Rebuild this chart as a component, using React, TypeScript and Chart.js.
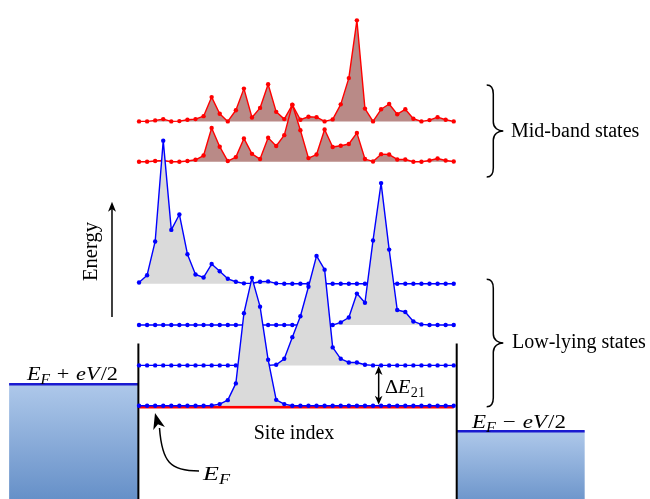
import React, { useEffect, useRef } from "react";
import { Chart, registerables } from "chart.js";

Chart.register(...registerables);

// ---- Data ----
const SITES: number[] = [
  0, 1, 2, 3, 4, 5, 6, 7, 8, 9, 10, 11, 12, 13, 14, 15, 16, 17, 18, 19,
  20, 21, 22, 23, 24, 25, 26, 27, 28, 29, 30, 31, 32, 33, 34, 35, 36, 37, 38, 39,
];

// energy levels (arbitrary units)
const LOW_LEVELS = [0, 4.1, 8.2, 12.4];
const MID_LEVELS = [24.8, 28.9];
const FERMI = 0;
const MU_LEFT = 2.18; // E_F + eV/2
const MU_RIGHT = -2.6; // E_F - eV/2

// |psi|^2 amplitudes (same units)
const PSI_1 = [0, 0, 0, 0, 0, 0, 0, 0, 0, 0.03, 0.17, 0.57, 2.27, 9.4, 13.0, 10.07, 4.67, 0.6, 0.17, 0,
  0, 0, 0, 0, 0, 0, 0, 0, 0, 0, 0, 0, 0, 0, 0, 0, 0, 0, 0, 0];
const PSI_2 = [0, 0, 0, 0, 0, 0, 0, 0, 0, 0, 0, 0, 0, 0, 0, 0, 0, 0.07, 0.67, 2.87,
  5.0, 8.0, 11.13, 9.73, 1.83, 0.67, 0.3, 0.3, 0.07, 0, 0, 0, 0, 0, 0, 0, 0, 0, 0, 0];
const PSI_3 = [0, 0, 0, 0, 0, 0, 0, 0, 0, 0, 0, 0, 0, 0, 0, 0, 0, 0, 0, 0,
  0, 0, 0, 0, 0, 0.27, 0.77, 3.2, 2.27, 8.6, 14.43, 7.67, 1.53, 1.33, 0.37, 0.07, 0, 0, 0, 0];
const PSI_4 = [0.13, 0.87, 4.3, 14.54, 5.47, 7.04, 3.0, 0.94, 0.64, 2.0, 1.27, 0.5, 0.2, 0.04, 0.05, 0.2, 0.24, 0.04, 0, 0,
  0, 0, 0, 0, 0, 0, 0, 0, 0, 0, 0, 0, 0, 0, 0, 0, 0, 0, 0, 0];
const PSI_MID_1 = [0, 0, 0.07, 0.13, 0, 0, 0.07, 0.2, 0.63, 3.43, 1.53, 0.07, 0.47, 2.37, 0.8, 0.27, 2.43, 1.6, 2.7, 5.8,
  3.2, 0.37, 0.73, 3.27, 1.5, 1.63, 1.8, 2.93, 0.27, 0.03, 0.77, 0.73, 0.23, 0.23, 0, 0, 0.13, 0.33, 0.13, 0.03];
const PSI_MID_2 = [0, 0, 0.1, 0.23, 0, 0.03, 0.17, 0.23, 0.53, 2.47, 0.77, 0, 1.13, 3.33, 0.4, 1.37, 3.77, 0.97, 0.23, 1.67,
  0.17, 0.47, 0.43, 0, 0.2, 1.73, 4.4, 10.27, 1.3, 0, 1.23, 1.77, 0.73, 1.23, 0.27, 0, 0.13, 0.43, 0.17, 0];

const LOW_STATES = [PSI_1, PSI_2, PSI_3, PSI_4];
const MID_STATES = [PSI_MID_1, PSI_MID_2];

// ---- view window ----
const X_MIN = -16.734;
const X_MAX = 62.83;
const Y_MIN = -9.07;
const Y_MAX = 40.83;

const FONT = '"Liberation Serif", "Times New Roman", serif';

const BLUE = "#0000ff";
const RED = "#ff0000";
const BLUE_FILL = "#dadada";
const RED_FILL = "#b98a87";

function makeDataset(amps: number[], level: number, color: string, fillColor: string) {
  return {
    data: SITES.map((s, i) => ({ x: s, y: level + amps[i] })),
    borderColor: color,
    borderWidth: 1.4,
    borderJoinStyle: "round",
    backgroundColor: fillColor,
    pointBackgroundColor: color,
    pointBorderColor: color,
    pointBorderWidth: 0,
    pointRadius: 2.2,
    tension: 0,
    fill: { value: level },
  };
}

type Seg = { t: string; it?: boolean; sub?: boolean; gapL?: number; gapR?: number };

function drawMath(ctx: CanvasRenderingContext2D, segs: Seg[], x: number, y: number, size: number, target?: number) {
  const measure = () => {
    let w = 0;
    for (const s of segs) {
      const fs = s.sub ? size * 0.7 : size;
      ctx.font = `${s.it ? "italic " : ""}${fs}px ${FONT}`;
      w += (s.gapL || 0) * size + ctx.measureText(s.t).width + (s.gapR || 0) * size;
    }
    return w;
  };
  const total = measure();
  const k = target ? target / total : 1;
  ctx.save();
  ctx.translate(x, y);
  ctx.scale(k, 1);
  let cx = 0;
  for (const s of segs) {
    const fs = s.sub ? size * 0.7 : size;
    ctx.font = `${s.it ? "italic " : ""}${fs}px ${FONT}`;
    cx += (s.gapL || 0) * size;
    const dy = s.sub ? size * 0.22 : 0;
    ctx.fillText(s.t, cx, dy);
    cx += ctx.measureText(s.t).width + (s.gapR || 0) * size;
  }
  ctx.restore();
}

function arrowHead(ctx: CanvasRenderingContext2D, tx: number, ty: number, ang: number, len: number, half: number) {
  const dx = Math.cos(ang), dy = Math.sin(ang);
  const px = -dy, py = dx;
  ctx.beginPath();
  ctx.moveTo(tx, ty);
  ctx.lineTo(tx - len * dx + half * px, ty - len * dy + half * py);
  ctx.lineTo(tx - 0.72 * len * dx, ty - 0.72 * len * dy);
  ctx.lineTo(tx - len * dx - half * px, ty - len * dy - half * py);
  ctx.closePath();
  ctx.fill();
}

function brace(ctx: CanvasRenderingContext2D, x0: number, xs: number, xt: number, yTop: number, yBot: number) {
  const ym = (yTop + yBot) / 2;
  const r = 9;
  ctx.beginPath();
  ctx.moveTo(x0, yTop);
  ctx.bezierCurveTo(x0 + 4.5, yTop, xs, yTop + 3, xs, yTop + r);
  ctx.lineTo(xs, ym - r);
  ctx.bezierCurveTo(xs, ym - 3, xt - 5, ym, xt, ym);
  ctx.bezierCurveTo(xt - 5, ym, xs, ym + 3, xs, ym + r);
  ctx.lineTo(xs, yBot - r);
  ctx.bezierCurveTo(xs, yBot - 3, x0 + 4.5, yBot, x0, yBot);
  ctx.stroke();
}

const decorPlugin = {
  id: "decor",
  beforeDatasetsDraw(chart: any) {
    const ctx: CanvasRenderingContext2D = chart.ctx;
    const xs = chart.scales.x, ys = chart.scales.y;
    const X = (v: number) => xs.getPixelForValue(v);
    const Y = (v: number) => ys.getPixelForValue(v);
    const bottom = chart.height;
    ctx.save();
    // reservoirs
    const wallL = X(-0.08), wallR = X(39.37);
    const lTop = Y(MU_LEFT), rTop = Y(MU_RIGHT);
    const lLeft = X(-16.1), rRight = X(55.23);
    let g = ctx.createLinearGradient(0, lTop, 0, bottom);
    g.addColorStop(0, "#aec8ea");
    g.addColorStop(1, "#6690c8");
    ctx.fillStyle = g;
    ctx.fillRect(lLeft, lTop, wallL - lLeft, bottom - lTop);
    g = ctx.createLinearGradient(0, rTop, 0, bottom);
    g.addColorStop(0, "#aec8ea");
    g.addColorStop(1, "#6f97cc");
    ctx.fillStyle = g;
    ctx.fillRect(wallR, rTop, rRight - wallR, bottom - rTop);
    ctx.strokeStyle = "#1a1ad0";
    ctx.lineWidth = 2.5;
    ctx.beginPath();
    ctx.moveTo(lLeft, lTop);
    ctx.lineTo(wallL, lTop);
    ctx.moveTo(wallR, rTop);
    ctx.lineTo(rRight, rTop);
    ctx.stroke();
    // walls
    ctx.strokeStyle = "#000";
    ctx.lineWidth = 2;
    ctx.beginPath();
    ctx.moveTo(wallL, Y(6.33));
    ctx.lineTo(wallL, bottom);
    ctx.moveTo(wallR, Y(6.33));
    ctx.lineTo(wallR, bottom);
    ctx.stroke();
    // Fermi level
    ctx.strokeStyle = RED;
    ctx.lineWidth = 3;
    ctx.beginPath();
    ctx.moveTo(X(0), Y(FERMI) + 1.2);
    ctx.lineTo(X(39), Y(FERMI) + 1.2);
    ctx.stroke();
    ctx.restore();
  },
  afterDatasetsDraw(chart: any) {
    const ctx: CanvasRenderingContext2D = chart.ctx;
    const xs = chart.scales.x, ys = chart.scales.y;
    const X = (v: number) => xs.getPixelForValue(v);
    const Y = (v: number) => ys.getPixelForValue(v);
    ctx.save();
    ctx.fillStyle = "#000";
    ctx.strokeStyle = "#000";
    ctx.textBaseline = "alphabetic";
    ctx.textAlign = "left";

    // Site index
    ctx.font = `20px ${FONT}`;
    ctx.textAlign = "center";
    ctx.fillText("Site index", 294, 439);

    // Energy label + arrow
    ctx.save();
    ctx.translate(97, 251.5);
    ctx.rotate(-Math.PI / 2);
    ctx.font = `20.5px ${FONT}`;
    ctx.fillText("Energy", 0, 0);
    ctx.restore();
    const ex = X(-3.35);
    ctx.lineWidth = 1.5;
    ctx.beginPath();
    ctx.moveTo(ex, Y(9.03));
    ctx.lineTo(ex, Y(20.73) + 6);
    ctx.stroke();
    arrowHead(ctx, ex, Y(20.73), -Math.PI / 2, 10, 4);

    // Delta E21 double arrow
    const dx = X(29.7);
    const yA = Y(LOW_LEVELS[1]) + 0.5, yB = Y(LOW_LEVELS[0]) - 1;
    ctx.beginPath();
    ctx.moveTo(dx, yA + 6);
    ctx.lineTo(dx, yB - 6);
    ctx.stroke();
    arrowHead(ctx, dx, yA, -Math.PI / 2, 9, 3.8);
    arrowHead(ctx, dx, yB, Math.PI / 2, 9, 3.8);

    ctx.textAlign = "left";
    drawMath(ctx, [{ t: "Δ" }, { t: "E", it: true, gapR: 0.02 }, { t: "21", sub: true }], 385, 393, 19.5, 40);

    // reservoir labels
    drawMath(ctx, [
      { t: "E", it: true }, { t: "F", it: true, sub: true },
      { t: "+", gapL: 0.3, gapR: 0.3 }, { t: "eV", it: true, gapR: 0.05 }, { t: "/2" },
    ], 27, 380, 19.5, 91);
    drawMath(ctx, [
      { t: "E", it: true }, { t: "F", it: true, sub: true },
      { t: "−", gapL: 0.3, gapR: 0.3 }, { t: "eV", it: true, gapR: 0.05 }, { t: "/2" },
    ], 472, 428, 19.5, 94);

    // E_F curved arrow
    drawMath(ctx, [{ t: "E", it: true }, { t: "F", it: true, sub: true }], 203, 479.5, 19.5, 27);
    ctx.lineWidth = 1.5;
    ctx.beginPath();
    ctx.moveTo(199, 471);
    ctx.bezierCurveTo(170, 471, 162, 462, 159.5, 428);
    ctx.stroke();
    arrowHead(ctx, 155, 413, Math.atan2(-17, -4.5), 16, 6);

    // braces and labels
    ctx.lineWidth = 1.5;
    brace(ctx, 486.7, 493.3, 503.3, 85, 177);
    brace(ctx, 486.7, 493.3, 503.3, 279.3, 406.7);
    ctx.font = `20px ${FONT}`;
    ctx.fillText("Mid-band states", 511, 137);
    ctx.fillText("Low-lying states", 512, 347.5);

    ctx.restore();
  },
};

export default function App() {
  const ref = useRef<HTMLCanvasElement>(null);
  useEffect(() => {
    const datasets: any[] = [];
    LOW_STATES.forEach((a, k) => datasets.push(makeDataset(a, LOW_LEVELS[k], BLUE, BLUE_FILL)));
    MID_STATES.forEach((a, k) => datasets.push(makeDataset(a, MID_LEVELS[k], RED, RED_FILL)));
    const chart = new Chart(ref.current as HTMLCanvasElement, {
      type: "line",
      data: { datasets },
      options: {
        responsive: false,
        animation: false,
        events: [],
        devicePixelRatio: 1,
        layout: { padding: 0 },
        plugins: {
          legend: { display: false },
          tooltip: { enabled: false },
          filler: { propagate: false },
        },
        scales: {
          x: { type: "linear", min: X_MIN, max: X_MAX, display: false },
          y: { type: "linear", min: Y_MIN, max: Y_MAX, display: false },
        },
      },
      plugins: [decorPlugin],
    } as any);
    return () => chart.destroy();
  }, []);
  return (
    <div style={{ position: "absolute", left: 0, top: 0, width: 650, height: 499, background: "#fff" }}>
      <canvas ref={ref} width={650} height={499} style={{ display: "block", width: 650, height: 499 }} />
    </div>
  );
}
